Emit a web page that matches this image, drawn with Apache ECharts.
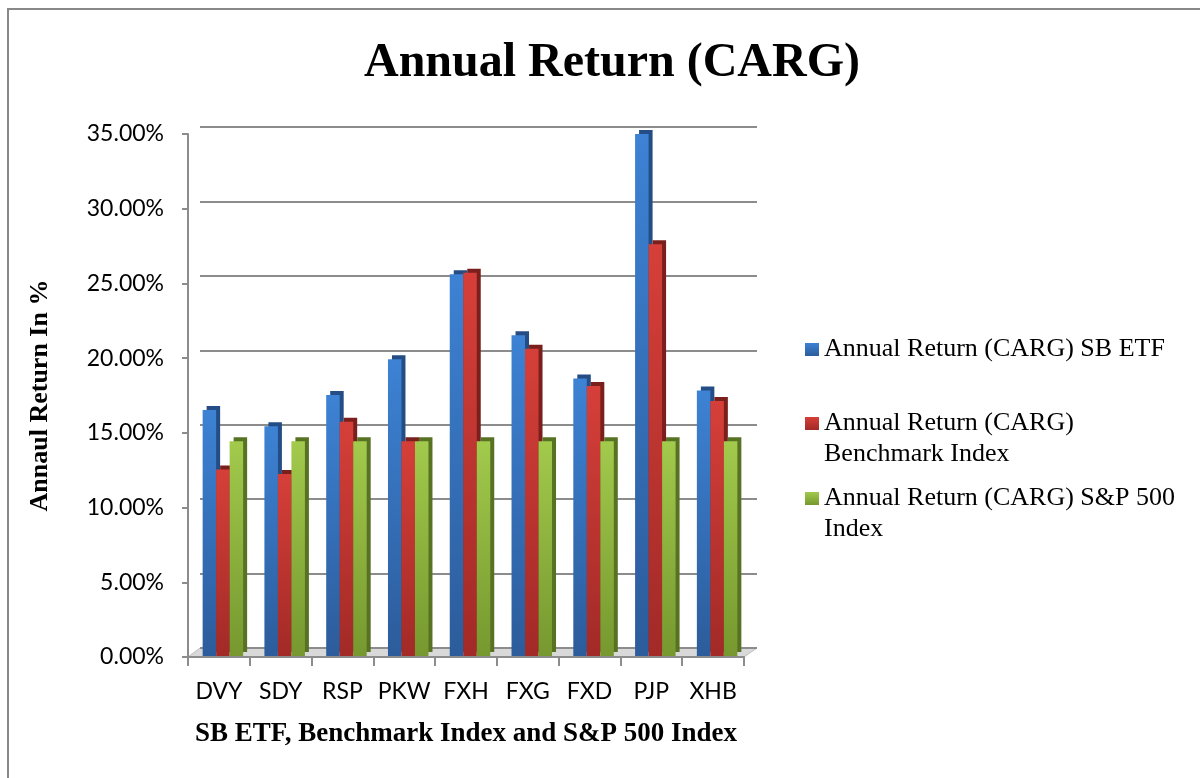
<!DOCTYPE html>
<html>
<head>
<meta charset="utf-8">
<title>Annual Return (CARG)</title>
<script src="https://cdn.jsdelivr.net/npm/echarts@6/dist/echarts.min.js"></script>
<style>
	html, body { margin: 0; padding: 0; background: #fff; }
	#main { width: 1200px; height: 778px; }
</style>
</head>
<body>
<div id="main"></div>
<script>
// 类目（x轴）
var categories = ["DVY", "SDY", "RSP", "PKW", "FXH", "FXG", "FXD", "PJP", "XHB"];
// 各系列名称
var seriesNames = [
	"Annual Return (CARG) SB ETF",
	"Annual Return (CARG) Benchmark Index",
	"Annual Return (CARG) S&P 500 Index"
];
// 各系列数值（小数，0.165 = 16.50%）
var sbEtf = [0.165, 0.154, 0.175, 0.199, 0.256, 0.215, 0.186, 0.350, 0.178];
var benchmark = [0.125, 0.122, 0.157, 0.144, 0.257, 0.206, 0.181, 0.276, 0.171];
var sp500 = [0.144, 0.144, 0.144, 0.144, 0.144, 0.144, 0.144, 0.144, 0.144];
// y轴刻度
var yMin = 0, yMax = 0.35, yStep = 0.05;

var serif = "'Liberation Serif', 'Times New Roman', serif";
var sans = "Lato, 'Open Sans', sans-serif";

function grad(top, bottom) {
	return new echarts.graphic.LinearGradient(0, 0, 0, 1, [
		{ offset: 0, color: top },
		{ offset: 1, color: bottom }
	]);
}

var colors = [
	{ face: grad("#3d82d4", "#2c5c9b"), side: "#234d84" },
	{ face: grad("#d63f39", "#a22a27"), side: "#7a1f1c" },
	{ face: grad("#a2ca4c", "#76982f"), side: "#587223" }
];

function makeBar(i, data) {
	return {
		name: seriesNames[i],
		type: "bar",
		xAxisIndex: 2,
		yAxisIndex: 2,
		data: data,
		barWidth: 13.5,
		barGap: "0%",
		z: 5,
		itemStyle: {
			color: colors[i].face,
			shadowColor: colors[i].side,
			shadowOffsetX: 4,
			shadowOffsetY: -4,
			shadowBlur: 0
		},
		emphasis: { disabled: true }
	};
}

// 图例：多行文字时在前面加一个空行，让第一行和色块对齐
function makeLegend(i, top, label) {
	return {
		data: [seriesNames[i]],
		orient: "vertical",
		left: 805,
		top: top,
		padding: 0,
		itemWidth: 14,
		itemHeight: 13,
		icon: "rect",
		selectedMode: false,
		itemStyle: { shadowColor: "transparent", shadowBlur: 0, shadowOffsetX: 0, shadowOffsetY: 0 },
		formatter: function() { return label; },
		textStyle: {
			fontFamily: serif,
			fontSize: 26,
			lineHeight: 31,
			color: "#000"
		}
	};
}

var myChart = echarts.init(document.getElementById("main"));

var option = {
	backgroundColor: "#fff",
	animation: false,
	title: {
		text: "Annual Return (CARG)",
		left: 607,
		textAlign: "center",
		top: 35,
		textStyle: { fontFamily: serif, fontWeight: "bold", fontSize: 48, color: "#000" }
	},
	legend: [
		makeLegend(0, 334, "Annual Return (CARG) SB ETF"),
		makeLegend(1, 377, "\nAnnual Return (CARG)\nBenchmark Index"),
		makeLegend(2, 452, "\nAnnual Return (CARG) S&P 500\nIndex")
	],
	grid: [
		// 前面的坐标轴
		{ left: 188, right: 456, top: 134, bottom: 121 },
		// 背面的网格线
		{ left: 200, right: 443, top: 127, bottom: 130 },
		// 柱子
		{ left: 192, right: 452, top: 134, bottom: 122 }
	],
	xAxis: [
		{
			gridIndex: 0,
			type: "category",
			data: categories,
			name: "SB ETF, Benchmark Index and S&P 500 Index",
			nameLocation: "middle",
			nameGap: 64,
			nameTextStyle: { fontFamily: serif, fontWeight: "bold", fontSize: 27, color: "#000" },
			axisLine: { show: true, lineStyle: { color: "#8c8c8c", width: 2 } },
			axisTick: { show: true, interval: 0, length: 9, lineStyle: { color: "#8c8c8c", width: 2 } },
			axisLabel: { interval: 0, fontFamily: sans, fontSize: 23, color: "#000", margin: 23 },
			splitLine: { show: false }
		},
		{
			gridIndex: 1,
			type: "category",
			data: categories,
			show: false
		},
		{
			gridIndex: 2,
			type: "category",
			data: categories,
			show: false
		}
	],
	yAxis: [
		{
			gridIndex: 0,
			type: "value",
			min: yMin,
			max: yMax,
			interval: yStep,
			name: "Annaul Return In %",
			nameLocation: "middle",
			nameGap: 135,
			nameRotate: 90,
			nameTextStyle: { fontFamily: serif, fontWeight: "bold", fontSize: 26, color: "#000" },
			axisLine: { show: true, lineStyle: { color: "#8c8c8c", width: 2 } },
			axisTick: { show: true, length: 6, lineStyle: { color: "#8c8c8c", width: 2 } },
			axisLabel: {
				fontFamily: sans,
				fontSize: 23,
				color: "#000",
				margin: 24,
				formatter: function(v) { return (v * 100).toFixed(2) + "%"; }
			},
			splitLine: { show: false }
		},
		{
			gridIndex: 1,
			type: "value",
			min: yMin,
			max: yMax,
			interval: yStep,
			axisLine: { show: false },
			axisTick: { show: false },
			axisLabel: { show: false },
			splitLine: { show: true, lineStyle: { color: "#8c8c8c", width: 2 } }
		},
		{
			gridIndex: 2,
			type: "value",
			min: yMin,
			max: yMax,
			interval: yStep,
			show: false,
			splitLine: { show: false }
		}
	],
	graphic: [
		// 外边框
		{
			type: "polyline",
			shape: { points: [[8, 778], [8, 9], [1200, 9]] },
			style: { stroke: "#888", lineWidth: 2, fill: null },
			silent: true
		},
		// 底面（3D 地板）
		{
			type: "polygon",
			z: -1,
			shape: { points: [[188, 657], [200, 648], [757, 648], [744, 657]] },
			style: { fill: "#d9d9d9", stroke: "#bfbfbf", lineWidth: 1 },
			silent: true
		}
	],
	series: [
		makeBar(0, sbEtf),
		makeBar(1, benchmark),
		makeBar(2, sp500)
	]
};

myChart.setOption(option);
</script>
</body>
</html>
